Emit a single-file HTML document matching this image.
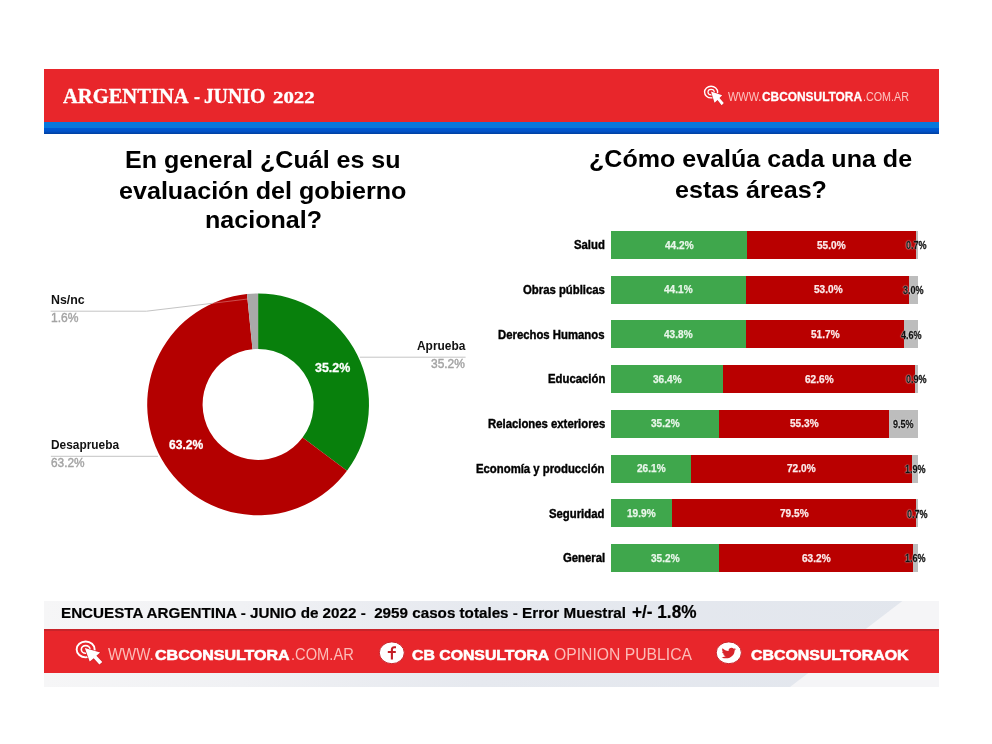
<!DOCTYPE html>
<html lang="es"><head><meta charset="utf-8"><title>CB Consultora - Argentina Junio 2022</title>
<style>
html,body{margin:0;padding:0;background:#fff;}
body{width:992px;height:744px;position:relative;overflow:hidden;font-family:"Liberation Sans",Arial,sans-serif;}
.abs,.t,.bar i{position:absolute;display:block;}
.t{white-space:nowrap;transform-origin:0 50%;line-height:1;}
svg{position:absolute;left:0;top:0;overflow:visible;}
.hdr{left:44px;top:68.5px;width:895px;height:53.5px;background:#e8262b;}
.hdr1{left:44px;top:121.5px;width:895px;height:6.5px;background:#0878dc;}
.hdr2{left:44px;top:127.8px;width:895px;height:6.1px;background:linear-gradient(#0059d4 0%,#0052c8 55%,#003f9e 100%);}
.ftbg{left:44px;top:600.5px;width:895px;height:86.5px;background:linear-gradient(90deg,#f6f6f7 0%,#f0f1f4 22%,#e6e9ef 48%,#e2e6ed 100%);}
.ftbg i{position:absolute;left:0;top:0;width:100%;height:100%;background:#f5f5f7;clip-path:polygon(859px 0,100% 0,100% 100%,746px 100%);}
.ftsh{left:44px;top:628.8px;width:895px;height:2.4px;background:#c8242a;}
.ftred{left:44px;top:628.8px;width:895px;height:44.6px;background:#e8262b;}
</style></head><body>
<div class="abs hdr"></div><div class="abs hdr1"></div><div class="abs hdr2"></div>
<div class="abs ftbg"><i></i></div><div class="abs ftred"></div><div class="abs ftsh"></div>
<div class="abs" style="left:611.10px;top:230.90px;width:135.69px;height:28.00px;background:#3fa74c"></div><div class="abs" style="left:746.79px;top:230.90px;width:168.85px;height:28.00px;background:#b90000"></div><div class="abs" style="left:915.64px;top:230.90px;width:2.15px;height:28.00px;background:#bdbdbd"></div><div class="abs" style="left:611.10px;top:275.62px;width:135.39px;height:28.00px;background:#3fa74c"></div><div class="abs" style="left:746.49px;top:275.62px;width:162.71px;height:28.00px;background:#b90000"></div><div class="abs" style="left:909.20px;top:275.62px;width:9.21px;height:28.00px;background:#bdbdbd"></div><div class="abs" style="left:611.10px;top:320.34px;width:134.47px;height:28.00px;background:#3fa74c"></div><div class="abs" style="left:745.57px;top:320.34px;width:158.72px;height:28.00px;background:#b90000"></div><div class="abs" style="left:904.29px;top:320.34px;width:14.12px;height:28.00px;background:#bdbdbd"></div><div class="abs" style="left:611.10px;top:365.06px;width:111.75px;height:28.00px;background:#3fa74c"></div><div class="abs" style="left:722.85px;top:365.06px;width:192.18px;height:28.00px;background:#b90000"></div><div class="abs" style="left:915.03px;top:365.06px;width:2.76px;height:28.00px;background:#bdbdbd"></div><div class="abs" style="left:611.10px;top:409.78px;width:108.06px;height:28.00px;background:#3fa74c"></div><div class="abs" style="left:719.16px;top:409.78px;width:169.77px;height:28.00px;background:#b90000"></div><div class="abs" style="left:888.93px;top:409.78px;width:29.16px;height:28.00px;background:#bdbdbd"></div><div class="abs" style="left:611.10px;top:454.50px;width:80.13px;height:28.00px;background:#3fa74c"></div><div class="abs" style="left:691.23px;top:454.50px;width:221.04px;height:28.00px;background:#b90000"></div><div class="abs" style="left:912.27px;top:454.50px;width:5.83px;height:28.00px;background:#bdbdbd"></div><div class="abs" style="left:611.10px;top:499.22px;width:61.09px;height:28.00px;background:#3fa74c"></div><div class="abs" style="left:672.19px;top:499.22px;width:244.06px;height:28.00px;background:#b90000"></div><div class="abs" style="left:916.26px;top:499.22px;width:2.15px;height:28.00px;background:#bdbdbd"></div><div class="abs" style="left:611.10px;top:543.94px;width:108.06px;height:28.00px;background:#3fa74c"></div><div class="abs" style="left:719.16px;top:543.94px;width:194.02px;height:28.00px;background:#b90000"></div><div class="abs" style="left:913.19px;top:543.94px;width:4.91px;height:28.00px;background:#bdbdbd"></div>
<svg width="992" height="744" viewBox="0 0 992 744">
<path d="M258.10 293.50A110.9 110.9 0 0 1 346.99 470.71L302.59 437.58A55.5 55.5 0 0 0 258.10 348.90Z" fill="#08800c"/>
<path d="M346.99 470.71A110.9 110.9 0 1 1 246.97 294.06L252.53 349.18A55.5 55.5 0 1 0 302.59 437.58Z" fill="#b40000"/>
<path d="M246.97 294.06A110.9 110.9 0 0 1 258.10 293.50L258.10 348.90A55.5 55.5 0 0 0 252.53 349.18Z" fill="#a9a9a9"/>
<g fill="none" stroke="#c4c4c4" stroke-width="1">
<path d="M50.6 311.2H146.5L212.4 303.3"/>
<path d="M212.4 303.3L248.5 298.9" stroke="#e8b0b0" opacity="0.45"/>
<path d="M359.8 357.2H465.6"/>
<path d="M50.9 456.3H158"/>
</g>
<g fill="none" stroke="#fff"><ellipse cx="711.1" cy="92.1" rx="6.55" ry="5.8" stroke-width="1.4"/><ellipse cx="711.1" cy="92.1" rx="3.14" ry="2.78" stroke-width="1.19"/></g><g transform="translate(704.3,85.1) scale(0.733,0.83)"><path d="M9.1 7.8L24.4 12.3L20.7 15.5L26.6 21.7L23.7 24.3L18 17.9L14 21.2Z" fill="#fff" stroke="#d3222a" stroke-width="1.3" stroke-linejoin="round" paint-order="stroke"/></g>
<g fill="none" stroke="#fff"><ellipse cx="85.65" cy="649.4" rx="9.0" ry="7.95" stroke-width="1.9"/><ellipse cx="85.65" cy="649.4" rx="4.32" ry="3.82" stroke-width="1.61"/></g><g transform="translate(75.7,640.3) scale(1.0,1.0)"><path d="M9.1 7.8L24.4 12.3L20.7 15.5L26.6 21.7L23.7 24.3L18 17.9L14 21.2Z" fill="#fff" stroke="#d3222a" stroke-width="1.3" stroke-linejoin="round" paint-order="stroke"/></g>
<ellipse cx="391.8" cy="652.8" rx="12.5" ry="10.9" fill="#fff" stroke="#c9232a" stroke-width="1"/>
<path d="M391.9 659.6V649.6Q391.9 647.3 394.3 647.2L396 647.2M387.8 652H395.8" fill="none" stroke="#c41e26" stroke-width="2.1"/>
<ellipse cx="728.8" cy="652.8" rx="12.6" ry="10.9" fill="#fff" stroke="#c9232a" stroke-width="1"/>
<path transform="translate(721.5,646.5) scale(0.617,0.549)" d="M23.6 4.6c-.9.4-1.8.6-2.8.8 1-.6 1.8-1.600 2.100-2.700-.9.6-2 1-3.100 1.200C18.900 2.900 17.700 2.400 16.300 2.400c-2.700 0-4.800 2.200-4.800 4.800 0 .4 0 .8.100 1.100C7.600 8.100 4.100 6.200 1.700 3.300c-.4.700-.7 1.600-.7 2.400 0 1.700.9 3.200 2.200 4-.8 0-1.600-.2-2.200-.6v.1c0 2.300 1.700 4.300 3.900 4.700-.4.100-.8.200-1.300.2-.3 0-.6 0-.9-.1.600 1.900 2.400 3.300 4.500 3.400-1.700 1.300-3.700 2.100-6 2.100-.4 0-.8 0-1.200-.1 2.200 1.400 4.700 2.200 7.400 2.200 8.900 0 13.800-7.400 13.800-13.800v-.6c.9-.7 1.800-1.500 2.400-2.500z" fill="#d8232a"/>
</svg>
<span class="t" style="left:62.70px;top:85.71px;font:700 21.6px/1 'Liberation Serif', 'Times New Roman', serif;color:#fff;transform:scaleX(0.9516);-webkit-text-stroke:0.35px #fff;">ARGENTINA</span>
<span class="t" style="left:193.80px;top:85.71px;font:700 21.6px/1 'Liberation Serif', 'Times New Roman', serif;color:#fff;transform:scaleX(0.8330);-webkit-text-stroke:0.35px #fff;">-</span>
<span class="t" style="left:203.80px;top:85.71px;font:700 21.6px/1 'Liberation Serif', 'Times New Roman', serif;color:#fff;transform:scaleX(0.9109);-webkit-text-stroke:0.35px #fff;">JUNIO</span>
<span class="t" style="left:273.00px;top:89.98px;font:700 16.5px/1 'Liberation Serif', 'Times New Roman', serif;color:#fff;transform:scaleX(1.2636);-webkit-text-stroke:0.35px #fff;">2022</span>
<span class="t" style="left:727.60px;top:90.29px;font:400 13.6px/1 'Liberation Sans', Arial, sans-serif;color:#fcc4c0;transform:scaleX(0.8042);">WWW.</span>
<span class="t" style="left:762.00px;top:90.09px;font:700 13.6px/1 'Liberation Sans', Arial, sans-serif;color:#fff;transform:scaleX(0.8749);-webkit-text-stroke:0.3px #fff;">CBCONSULTORA</span>
<span class="t" style="left:863.00px;top:90.29px;font:400 13.6px/1 'Liberation Sans', Arial, sans-serif;color:#fcc4c0;transform:scaleX(0.7910);">.COM.AR</span>
<span class="t" style="left:125.20px;top:147.76px;font:700 24.5px/1 'Liberation Sans', Arial, sans-serif;color:#000;transform:scaleX(1.0223);">En general ¿Cuál es su</span>
<span class="t" style="left:119.00px;top:178.96px;font:700 24.5px/1 'Liberation Sans', Arial, sans-serif;color:#000;transform:scaleX(1.0248);">evaluación del gobierno</span>
<span class="t" style="left:204.60px;top:208.16px;font:700 24.5px/1 'Liberation Sans', Arial, sans-serif;color:#000;transform:scaleX(1.0231);">nacional?</span>
<span class="t" style="left:588.80px;top:147.46px;font:700 24.5px/1 'Liberation Sans', Arial, sans-serif;color:#000;transform:scaleX(1.0229);">¿Cómo evalúa cada una de</span>
<span class="t" style="left:674.50px;top:178.06px;font:700 24.5px/1 'Liberation Sans', Arial, sans-serif;color:#000;transform:scaleX(1.0230);">estas áreas?</span>
<span class="t" style="left:50.60px;top:293.30px;font:700 13px/1 'Liberation Sans', Arial, sans-serif;color:#111;transform:scaleX(0.9518);">Ns/nc</span>
<span class="t" style="left:50.60px;top:311.87px;font:400 12.2px/1 'Liberation Sans', Arial, sans-serif;color:#a3a3a3;transform:scaleX(0.9899);-webkit-text-stroke:0.4px #a3a3a3;">1.6%</span>
<span class="t" style="left:416.90px;top:339.30px;font:700 13px/1 'Liberation Sans', Arial, sans-serif;color:#111;transform:scaleX(0.9178);">Aprueba</span>
<span class="t" style="left:431.40px;top:357.84px;font:400 12.0px/1 'Liberation Sans', Arial, sans-serif;color:#a3a3a3;transform:scaleX(0.9961);-webkit-text-stroke:0.4px #a3a3a3;">35.2%</span>
<span class="t" style="left:50.90px;top:438.20px;font:700 13px/1 'Liberation Sans', Arial, sans-serif;color:#111;transform:scaleX(0.9137);">Desaprueba</span>
<span class="t" style="left:50.90px;top:456.67px;font:400 12.2px/1 'Liberation Sans', Arial, sans-serif;color:#a3a3a3;transform:scaleX(0.9722);-webkit-text-stroke:0.4px #a3a3a3;">63.2%</span>
<span class="t" style="left:168.50px;top:437.83px;font:700 13.2px/1 'Liberation Sans', Arial, sans-serif;color:#fff;transform:scaleX(0.9170);-webkit-text-stroke:0.3px #fff;">63.2%</span>
<span class="t" style="left:314.70px;top:360.73px;font:700 13.2px/1 'Liberation Sans', Arial, sans-serif;color:#fff;transform:scaleX(0.9437);-webkit-text-stroke:0.3px #fff;">35.2%</span>
<span class="t" style="left:574.03px;top:239.33px;font:700 12.6px/1 'Liberation Sans', Arial, sans-serif;color:#000;transform:scaleX(0.9000);-webkit-text-stroke:0.4px #000;">Salud</span>
<span class="t" style="left:664.65px;top:238.58px;font:700 11.6px/1 'Liberation Sans', Arial, sans-serif;color:#e9f6ea;transform:scaleX(0.8700);-webkit-text-stroke:0.25px #e9f6ea;">44.2%</span>
<span class="t" style="left:816.92px;top:238.58px;font:700 11.6px/1 'Liberation Sans', Arial, sans-serif;color:#fbeaea;transform:scaleX(0.8700);-webkit-text-stroke:0.25px #fbeaea;">55.0%</span>
<span class="t" style="left:906.41px;top:239.18px;font:700 11.6px/1 'Liberation Sans', Arial, sans-serif;color:#111;transform:scaleX(0.7800);text-shadow:0 0 1.5px #fff,0 0 1.5px #fff;-webkit-text-stroke:0.3px #111;">0.7%</span>
<span class="t" style="left:523.00px;top:284.05px;font:700 12.6px/1 'Liberation Sans', Arial, sans-serif;color:#000;transform:scaleX(0.9000);-webkit-text-stroke:0.4px #000;">Obras públicas</span>
<span class="t" style="left:664.49px;top:283.30px;font:700 11.6px/1 'Liberation Sans', Arial, sans-serif;color:#e9f6ea;transform:scaleX(0.8700);-webkit-text-stroke:0.25px #e9f6ea;">44.1%</span>
<span class="t" style="left:813.54px;top:283.30px;font:700 11.6px/1 'Liberation Sans', Arial, sans-serif;color:#fbeaea;transform:scaleX(0.8700);-webkit-text-stroke:0.25px #fbeaea;">53.0%</span>
<span class="t" style="left:903.49px;top:283.90px;font:700 11.6px/1 'Liberation Sans', Arial, sans-serif;color:#111;transform:scaleX(0.7800);text-shadow:0 0 1.5px #fff,0 0 1.5px #fff;-webkit-text-stroke:0.3px #111;">3.0%</span>
<span class="t" style="left:498.45px;top:328.77px;font:700 12.6px/1 'Liberation Sans', Arial, sans-serif;color:#000;transform:scaleX(0.9000);-webkit-text-stroke:0.4px #000;">Derechos Humanos</span>
<span class="t" style="left:664.03px;top:328.02px;font:700 11.6px/1 'Liberation Sans', Arial, sans-serif;color:#e9f6ea;transform:scaleX(0.8700);-webkit-text-stroke:0.25px #e9f6ea;">43.8%</span>
<span class="t" style="left:810.62px;top:328.02px;font:700 11.6px/1 'Liberation Sans', Arial, sans-serif;color:#fbeaea;transform:scaleX(0.8700);-webkit-text-stroke:0.25px #fbeaea;">51.7%</span>
<span class="t" style="left:901.04px;top:328.62px;font:700 11.6px/1 'Liberation Sans', Arial, sans-serif;color:#111;transform:scaleX(0.7800);text-shadow:0 0 1.5px #fff,0 0 1.5px #fff;-webkit-text-stroke:0.3px #111;">4.6%</span>
<span class="t" style="left:547.58px;top:373.49px;font:700 12.6px/1 'Liberation Sans', Arial, sans-serif;color:#000;transform:scaleX(0.9000);-webkit-text-stroke:0.4px #000;">Educación</span>
<span class="t" style="left:652.67px;top:372.74px;font:700 11.6px/1 'Liberation Sans', Arial, sans-serif;color:#e9f6ea;transform:scaleX(0.8700);-webkit-text-stroke:0.25px #e9f6ea;">36.4%</span>
<span class="t" style="left:804.64px;top:372.74px;font:700 11.6px/1 'Liberation Sans', Arial, sans-serif;color:#fbeaea;transform:scaleX(0.8700);-webkit-text-stroke:0.25px #fbeaea;">62.6%</span>
<span class="t" style="left:906.10px;top:373.34px;font:700 11.6px/1 'Liberation Sans', Arial, sans-serif;color:#111;transform:scaleX(0.7800);text-shadow:0 0 1.5px #fff,0 0 1.5px #fff;-webkit-text-stroke:0.3px #111;">0.9%</span>
<span class="t" style="left:487.70px;top:418.21px;font:700 12.6px/1 'Liberation Sans', Arial, sans-serif;color:#000;transform:scaleX(0.9000);-webkit-text-stroke:0.4px #000;">Relaciones exteriores</span>
<span class="t" style="left:650.83px;top:417.46px;font:700 11.6px/1 'Liberation Sans', Arial, sans-serif;color:#e9f6ea;transform:scaleX(0.8700);-webkit-text-stroke:0.25px #e9f6ea;">35.2%</span>
<span class="t" style="left:789.75px;top:417.46px;font:700 11.6px/1 'Liberation Sans', Arial, sans-serif;color:#fbeaea;transform:scaleX(0.8700);-webkit-text-stroke:0.25px #fbeaea;">55.3%</span>
<span class="t" style="left:893.21px;top:418.06px;font:700 11.6px/1 'Liberation Sans', Arial, sans-serif;color:#111;transform:scaleX(0.7800);text-shadow:0 0 1.5px #fff,0 0 1.5px #fff;-webkit-text-stroke:0.3px #111;">9.5%</span>
<span class="t" style="left:476.42px;top:462.93px;font:700 12.6px/1 'Liberation Sans', Arial, sans-serif;color:#000;transform:scaleX(0.9000);-webkit-text-stroke:0.4px #000;">Economía y producción</span>
<span class="t" style="left:636.86px;top:462.18px;font:700 11.6px/1 'Liberation Sans', Arial, sans-serif;color:#e9f6ea;transform:scaleX(0.8700);-webkit-text-stroke:0.25px #e9f6ea;">26.1%</span>
<span class="t" style="left:787.45px;top:462.18px;font:700 11.6px/1 'Liberation Sans', Arial, sans-serif;color:#fbeaea;transform:scaleX(0.8700);-webkit-text-stroke:0.25px #fbeaea;">72.0%</span>
<span class="t" style="left:904.87px;top:462.78px;font:700 11.6px/1 'Liberation Sans', Arial, sans-serif;color:#111;transform:scaleX(0.7800);text-shadow:0 0 1.5px #fff,0 0 1.5px #fff;-webkit-text-stroke:0.3px #111;">1.9%</span>
<span class="t" style="left:549.47px;top:507.65px;font:700 12.6px/1 'Liberation Sans', Arial, sans-serif;color:#000;transform:scaleX(0.9000);-webkit-text-stroke:0.4px #000;">Seguridad</span>
<span class="t" style="left:627.35px;top:506.90px;font:700 11.6px/1 'Liberation Sans', Arial, sans-serif;color:#e9f6ea;transform:scaleX(0.8700);-webkit-text-stroke:0.25px #e9f6ea;">19.9%</span>
<span class="t" style="left:779.92px;top:506.90px;font:700 11.6px/1 'Liberation Sans', Arial, sans-serif;color:#fbeaea;transform:scaleX(0.8700);-webkit-text-stroke:0.25px #fbeaea;">79.5%</span>
<span class="t" style="left:907.02px;top:507.50px;font:700 11.6px/1 'Liberation Sans', Arial, sans-serif;color:#111;transform:scaleX(0.7800);text-shadow:0 0 1.5px #fff,0 0 1.5px #fff;-webkit-text-stroke:0.3px #111;">0.7%</span>
<span class="t" style="left:562.68px;top:552.37px;font:700 12.6px/1 'Liberation Sans', Arial, sans-serif;color:#000;transform:scaleX(0.9000);-webkit-text-stroke:0.4px #000;">General</span>
<span class="t" style="left:650.83px;top:551.62px;font:700 11.6px/1 'Liberation Sans', Arial, sans-serif;color:#e9f6ea;transform:scaleX(0.8700);-webkit-text-stroke:0.25px #e9f6ea;">35.2%</span>
<span class="t" style="left:801.88px;top:551.62px;font:700 11.6px/1 'Liberation Sans', Arial, sans-serif;color:#fbeaea;transform:scaleX(0.8700);-webkit-text-stroke:0.25px #fbeaea;">63.2%</span>
<span class="t" style="left:905.33px;top:552.22px;font:700 11.6px/1 'Liberation Sans', Arial, sans-serif;color:#111;transform:scaleX(0.7800);text-shadow:0 0 1.5px #fff,0 0 1.5px #fff;-webkit-text-stroke:0.3px #111;">1.6%</span>
<span class="t" style="left:60.80px;top:604.68px;font:700 15.5px/1 'Liberation Sans', Arial, sans-serif;color:#000;transform:scaleX(0.9810);-webkit-text-stroke:0.2px #000;">ENCUESTA ARGENTINA - JUNIO de 2022 - &nbsp;2959 casos totales - Error Muestral</span>
<span class="t" style="left:631.90px;top:603.72px;font:700 17.7px/1 'Liberation Sans', Arial, sans-serif;color:#000;transform:scaleX(0.9718);-webkit-text-stroke:0.2px #000;">+/- 1.8%</span>
<span class="t" style="left:108.30px;top:646.93px;font:400 15.8px/1 'Liberation Sans', Arial, sans-serif;color:#fcbcb8;transform:scaleX(0.9472);">WWW.</span>
<span class="t" style="left:155.20px;top:647.43px;font:700 15.2px/1 'Liberation Sans', Arial, sans-serif;color:#fff;transform:scaleX(1.0549);-webkit-text-stroke:0.6px #fff;">CBCONSULTORA</span>
<span class="t" style="left:290.60px;top:646.93px;font:400 15.8px/1 'Liberation Sans', Arial, sans-serif;color:#fcbcb8;transform:scaleX(0.9293);">.COM.AR</span>
<span class="t" style="left:411.70px;top:646.76px;font:700 15.4px/1 'Liberation Sans', Arial, sans-serif;color:#fff;transform:scaleX(1.0271);-webkit-text-stroke:0.6px #fff;">CB CONSULTORA</span>
<span class="t" style="left:554.00px;top:646.63px;font:400 15.8px/1 'Liberation Sans', Arial, sans-serif;color:#fcbcb8;transform:scaleX(0.9949);">OPINION PUBLICA</span>
<span class="t" style="left:751.20px;top:646.86px;font:700 15.4px/1 'Liberation Sans', Arial, sans-serif;color:#fff;transform:scaleX(1.0329);-webkit-text-stroke:0.6px #fff;">CBCONSULTORAOK</span>
</body></html>
